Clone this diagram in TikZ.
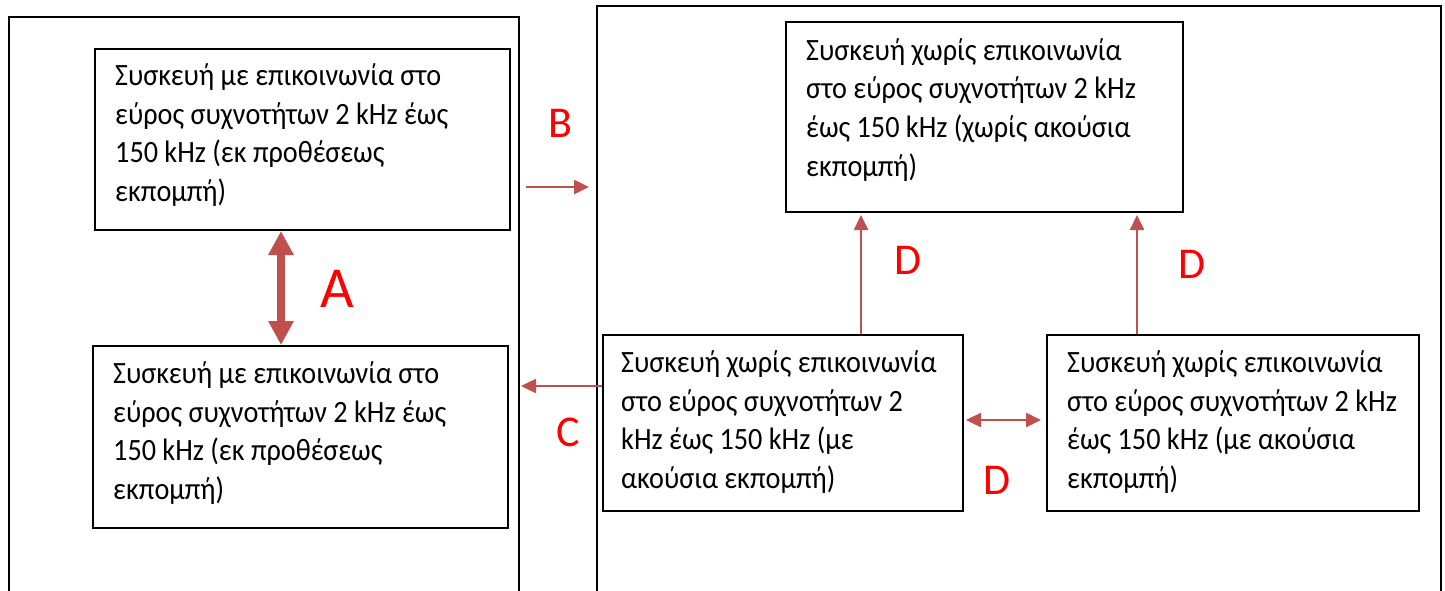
\documentclass[tikz,border=0pt]{standalone}
\usepackage{fontspec}
\setmainfont{Carlito}
\newfontfamily\boxfont[FakeStretch=0.91]{Carlito}
\usetikzlibrary{arrows.meta}
\definecolor{arrowred}{HTML}{C0504D}
\definecolor{labred}{HTML}{FF0000}
\tikzset{
  outerbox/.style={draw=black, line width=2pt, minimum width=#1, minimum height=700pt, anchor=north west, inner sep=0pt},
  devbox/.style={draw=black, line width=2pt, inner sep=0pt, anchor=north west},
  txt/.style={anchor=north west, inner sep=0pt, align=left, font=\boxfont\fontsize{31}{38.8}\selectfont},
  arr/.style={draw=arrowred, line width=2.5pt, -{Triangle[length=15pt,width=14pt]}},
  darr/.style={draw=arrowred, line width=2.5pt, {Triangle[length=15pt,width=14pt]}-{Triangle[length=15pt,width=14pt]}},
  bigarr/.style={draw=arrowred, line width=8pt, {Triangle[length=24pt,width=24pt]}-{Triangle[length=24pt,width=24pt]}},
  lab/.style={text=labred, inner sep=0pt, font=\fontsize{44}{44}\selectfont},
  biglab/.style={text=labred, inner sep=0pt, font=\fontsize{58}{58}\selectfont}
}
\newcommand{\firststrut}{\rule{0pt}{25pt}}
\begin{document}
\begin{tikzpicture}[x=1pt,y=-1pt]
\useasboundingbox (0,0) rectangle (1445,591);
\clip (0,0) rectangle (1445,591);
% containers
\node[outerbox=510pt] (lc) at (8,16) {};
\node[outerbox=844pt] (rc) at (596,5) {};
% device boxes
\node[devbox, minimum width=415pt, minimum height=181pt] (l1) at (94,48) {};
\node[devbox, minimum width=415pt, minimum height=182pt] (l2) at (92,345) {};
\node[devbox, minimum width=397pt, minimum height=190pt] (rtop) at (785,21) {};
\node[devbox, minimum width=360pt, minimum height=176pt] (rmid) at (602,334) {};
\node[devbox, minimum width=372pt, minimum height=176pt] (rright) at (1046,334) {};
% texts
\node[txt] (t1) at (115,60) {\firststrut Συσκευή με επικοινωνία στο\\εύρος συχνοτήτων 2 kHz έως\\150 kHz (εκ προθέσεως\\εκπομπή)};
\node[txt] (t2) at (113,358) {\firststrut Συσκευή με επικοινωνία στο\\εύρος συχνοτήτων 2 kHz έως\\150 kHz (εκ προθέσεως\\εκπομπή)};
\node[txt] (t3) at (806,35) {\firststrut Συσκευή χωρίς επικοινωνία\\στο εύρος συχνοτήτων 2 kHz\\έως 150 kHz (χωρίς ακούσια\\εκπομπή)};
\node[txt] (t4) at (621,347) {\firststrut Συσκευή χωρίς επικοινωνία\\στο εύρος συχνοτήτων 2\\kHz έως 150 kHz (με\\ακούσια εκπομπή)};
\node[txt] (t5) at (1067,347) {\firststrut Συσκευή χωρίς επικοινωνία\\στο εύρος συχνοτήτων 2 kHz\\έως 150 kHz (με ακούσια\\εκπομπή)};
% helper coordinates
\coordinate (ax) at (281,0);
\coordinate (by) at (0,187);
\coordinate (cy) at (0,386);
\coordinate (dx1) at (861,0);
\coordinate (dx2) at (1137,0);
% connectors
\draw[bigarr] (l1.south -| ax) -- (l2.north -| ax);
\draw[arr] ([xshift=6pt]lc.east |- by) -- ([xshift=-7pt]rc.west |- by);
\draw[arr] (rmid.west |- cy) -- ([xshift=1pt]lc.east |- cy);
\draw[darr, shorten <=2pt, shorten >=5pt] ([yshift=3pt]rmid.east) -- ([yshift=3pt]rright.west);
\draw[arr, shorten >=2pt] (rmid.north -| dx1) -- (rtop.south -| dx1);
\draw[arr, shorten >=2pt] (rright.north -| dx2) -- (rtop.south -| dx2);
% labels
\node[biglab] (la) at (337,289) {A};
\node[lab] (lb) at (560,123) {B};
\node[lab] (lcc) at (568,432) {C};
\node[lab] (ld1) at (908,260) {D};
\node[lab] (ld2) at (1192,264) {D};
\node[lab] (ld3) at (997,480) {D};
\end{tikzpicture}
\end{document}
